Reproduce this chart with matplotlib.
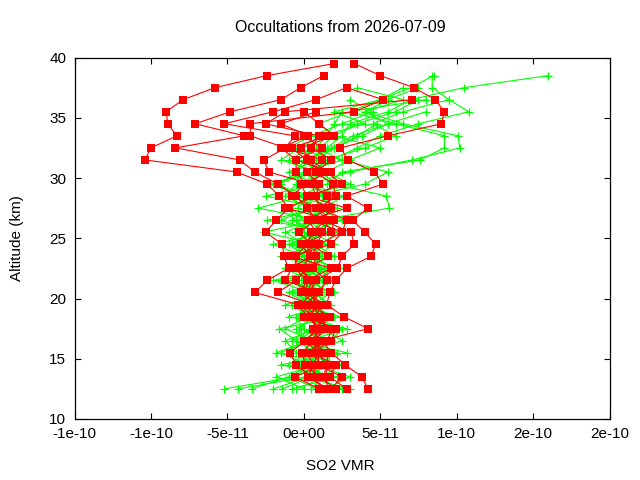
import numpy as np
import matplotlib
matplotlib.use("Agg")
import matplotlib.pyplot as plt

nan = np.nan
# values in units of 1e-11 (SO2 VMR)
red_alt = np.arange(12.5, 40.0, 1.0)    # 12.5 .. 39.5
green_alt = np.arange(12.5, 39.0, 1.0)  # 12.5 .. 38.5

red_profiles = [
    [1.3, 0.5, -0.5, -0.9, 0.1, 0.9, 0.3, -0.4, -3.2, -2.4, -1.0, -1.3, -1.4, -2.5, -1.8, -1.0, -1.6, -2.4, -4.4, -10.4, -10.0, -8.3, -8.9, -9.0, -7.9, -5.8, -2.4, 2.0],
    [4.2, 3.8, 2.7, 1.8, 1.2, 4.2, 2.6, 1.5, 1.7, 2.1, 2.8, 4.4, 4.7, 4.0, 3.2, 4.2, 2.8, 5.2, 4.6, 2.9, 2.4, 5.5, 9.0, 9.2, 8.6, 7.2, 5.0, 3.3],
    [2.1, 1.0, 0.1, -0.1, 0.6, 1.5, 1.0, 0.5, -1.7, -0.5, 0.2, 1.6, 0.5, -0.3, 0.8, 0.2, -0.5, -1.7, -3.2, -4.2, -8.4, -3.9, -7.1, -4.8, -1.5, -0.2, 1.3, nan],
    [2.8, 1.7, 2.1, 0.5, 1.8, 2.1, 0.0, 1.2, 0.4, 0.8, 2.2, 2.5, 3.3, 3.1, 1.2, 1.8, 1.5, 0.5, -2.3, -2.6, -1.2, -0.6, -5.2, -2.0, 0.8, 2.8, nan, nan],
    [1.0, -0.6, 1.2, 0.5, 1.0, 0.6, 1.7, 0.2, 0.9, -1.2, -0.8, 0.4, -0.2, 1.8, 2.0, -1.2, 0.8, 1.0, 0.2, 1.2, -1.2, -3.5, -3.5, 3.3, 5.2, 2.8, nan, nan],
    [1.6, 1.4, 1.6, 1.5, 0.5, 1.2, 0.8, 1.1, 0.2, 0.2, -0.6, -0.5, 1.0, 2.5, 2.8, 1.0, 2.1, 1.9, 0.8, 1.8, 0.5, 1.0, -2.5, -1.2, 7.1, nan, nan, nan],
    [1.6, 0.3, 0.6, 0.2, 1.5, 1.9, 0.5, -0.2, 0.6, 0.5, -0.4, -0.5, 0.2, 0.5, 1.5, 0.8, -0.8, 0.1, -0.5, -0.5, -1.5, 0.3, -1.5, 0.8, nan, nan, nan, nan],
    [1.8, 2.5, 0.9, 1.0, 0.8, 1.2, 1.5, 0.8, -0.2, 0.2, 1.8, -0.8, 1.8, 2.5, 0.5, 1.5, 0.4, 2.5, 1.5, 0.5, -0.2, 2.0, 1.0, 0.0, nan, nan, nan, nan],
    [nan, 0.8, 0.6, 1.0, 0.0, 1.1, 0.2, 0.5, 1.0, 1.5, 0.6, 0.8, 0.0, 0.8, 0.3, 2.8, 0.2, -0.2, 1.8, -0.5, 1.2, 0.0, nan, nan, nan, nan, nan, nan],
    [nan, 1.3, 1.5, 0.9, 0.6, 1.0, 0.4, 0.9, 0.3, 0.5, -0.2, 0.5, 0.9, 1.2, 1.7, 1.0, 0.8, 0.5, 1.2, 0.2, -0.8, 1.5, nan, nan, nan, nan, nan, nan],
]

green_profiles = [
    [-5.2, -0.5, 0.3, 1.0, 0.2, -0.3, 0.5, 0.8, 0.0, -0.6, 0.4, 1.2, 0.3, -0.2, 0.6, 1.0, -0.8, -1.5, -0.5, 0.5, 1.5, 2.5, 3.0, 5.5, 7.0, 10.5, 16.0],
    [-4.3, 0.2, 1.5, 0.8, -0.5, 0.9, 1.3, 0.2, -0.4, 0.9, 1.8, 0.5, -0.3, 1.4, 0.2, -0.9, 0.5, -2.0, 0.3, 1.8, 3.5, 5.0, 7.5, 10.8, 9.5, 8.4, 8.4],
    [-3.4, -1.0, 0.5, -0.2, 1.8, 2.5, 0.4, -0.8, 1.0, 0.3, -1.2, 0.8, 2.0, 0.5, -0.5, 2.0, 1.2, 0.5, 3.0, 7.1, 10.2, 10.1, 6.5, 4.0, 5.5, 7.5, nan],
    [-1.4, 0.5, -0.3, 1.2, 0.6, -1.2, 0.2, 1.5, 0.8, -0.8, 0.5, 1.0, -0.5, 0.3, 2.5, 0.9, -0.3, 1.5, 2.5, 7.6, 9.2, 9.2, 6.0, 3.0, 8.0, nan, nan],
    [0.5, 1.2, 2.5, -0.5, -1.2, 0.8, 2.0, 0.3, -0.3, 1.5, 0.0, -0.6, 1.2, 2.2, 1.0, 5.6, 5.4, 2.0, 0.5, 1.5, 4.0, 6.0, 4.5, 6.5, 9.5, nan, nan],
    [2.5, 0.8, -1.0, 0.3, 1.0, 0.0, -0.5, 0.6, 1.8, 0.2, -0.5, 2.0, 0.7, -0.6, 0.5, 1.3, 2.6, 0.0, -0.8, 0.2, 2.0, 3.8, 5.5, 4.0, 6.5, 3.5, nan],
    [1.5, 3.0, 0.8, 2.2, -0.8, 0.5, 1.0, -0.2, 0.4, 2.0, 0.9, 0.2, -1.0, 0.9, 1.6, -0.4, 0.2, 3.0, 1.5, -0.5, 1.0, 2.0, 1.0, 3.0, 5.0, 7.0, 8.5],
    [0.0, -1.8, 1.0, 0.0, 2.5, 1.2, 0.0, 0.8, -0.8, 0.6, 1.3, -0.2, 0.5, 1.0, -1.5, 0.5, 1.8, 1.0, 0.0, 2.5, -1.0, 0.5, 2.5, 4.5, 3.0, nan, nan],
    [3.0, 0.0, 1.8, 1.5, 0.0, -0.5, 0.8, 1.2, 0.2, -0.2, 0.6, 1.5, 0.0, -1.2, 0.8, 2.2, -0.5, -1.8, 0.8, 0.0, 1.8, 3.2, 5.5, 8.0, nan, nan, nan],
    [-0.5, 1.5, 0.2, -1.5, 0.5, 1.8, -0.3, 0.0, 1.2, 0.8, -0.3, 0.3, 1.5, 0.0, 0.0, -1.2, 0.9, 2.2, 1.0, -1.5, -0.3, 1.2, 4.0, 2.0, 5.0, 6.5, nan],
    [1.0, 0.6, -0.5, 0.8, 1.4, -0.2, 0.6, 0.3, -1.0, 1.2, 0.2, 0.6, -0.8, 0.5, 1.2, 0.4, -1.2, -0.5, 1.5, 3.0, 5.0, 2.0, 3.5, 6.0, 7.5, nan, nan],
    [-2.0, 0.3, 1.2, 0.5, -0.2, 1.5, 0.4, -0.6, 0.6, 0.0, 1.0, -0.8, 0.2, 0.9, -0.8, 0.3, 0.6, 4.0, 5.5, 2.5, 0.8, 1.5, 2.0, 2.5, nan, nan, nan],
    [0.8, -0.8, 2.0, -1.8, 0.3, 2.8, -1.0, 1.8, 0.5, -2.0, 1.5, -1.5, 0.8, -2.6, 1.0, -3.0, 0.0, -2.2, 0.5, -1.0, 0.5, 1.0, nan, nan, nan, nan, nan],
    [-0.8, 2.2, -1.5, 2.8, -0.5, -1.6, 2.4, -1.2, 2.0, -1.5, 2.3, 0.0, -2.0, 1.6, -2.4, 1.2, -2.5, 0.8, -1.0, 0.8, 2.0, 3.5, 4.8, nan, nan, nan, nan],
]

xticks = [-1.5e-10, -1e-10, -5e-11, 0.0, 5e-11, 1e-10, 1.5e-10, 2e-10]
xticklabels = ["-1e-10", "-1e-10", "-5e-11", "0e+00", "5e-11", "1e-10", "2e-10", "2e-10"]
yticks = [10, 15, 20, 25, 30, 35, 40]

plt.rcParams['font.family'] = ['Liberation Sans', 'DejaVu Sans']
fig = plt.figure(figsize=(6.4, 4.8), dpi=100)
ax = fig.add_axes([74.5/640, 1 - 419/480, 535/640, (419 - 57.5)/480])

for p in green_profiles:
    ax.plot(np.array(p) * 1e-11, green_alt, color='#00ff00', lw=0.8,
            marker='+', ms=6, mew=0.9)
for p in red_profiles:
    ax.plot(np.array(p) * 1e-11, red_alt, color='#ff0000', lw=0.8,
            marker='s', ms=5.2, mew=0)

ax.set_xlim(-1.5e-10, 2e-10)
ax.set_ylim(10, 40)
ax.set_xticks(xticks)
ax.set_xticklabels(xticklabels)
ax.set_yticks(yticks)
ax.tick_params(direction='in', length=4, width=0.8, top=True, right=True,
               labelsize=11, colors='black', pad=6)
for s in ax.spines.values():
    s.set_linewidth(0.9)

fig.text(340/640, 1 - 27/480, "Occultations from 2026-07-09", ha='center', va='center', fontsize=11.5)
fig.text(340/640, 1 - 466/480, "SO2 VMR", ha='center', va='center', fontsize=11)
fig.text(17/640, 1 - 238/480, "Altitude (km)", ha='center', va='center', rotation=90, fontsize=11)

fig.savefig("out.png", dpi=100)
